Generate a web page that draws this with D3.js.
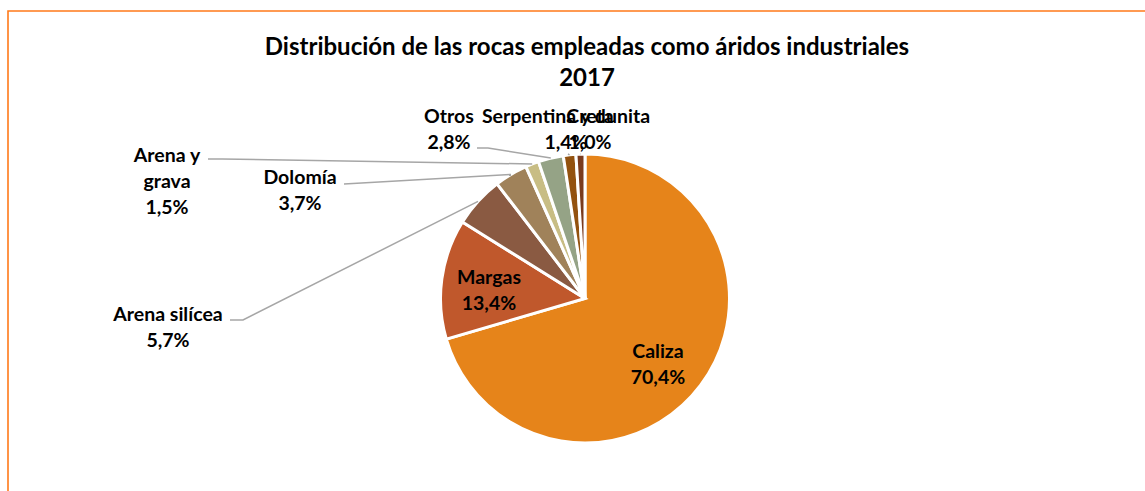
<!DOCTYPE html>
<html>
<head>
<meta charset="utf-8">
<script src="https://cdn.jsdelivr.net/npm/d3@7"></script>
<style>
  html, body { margin: 0; padding: 0; background: #fff; }
  svg { display: block; }
  text { font-family: Lato, "Open Sans", sans-serif; font-weight: bold; fill: #000; }
</style>
</head>
<body>
<svg id="chart" width="1145" height="491"></svg>
<script>
// ---- data ----
const categories = ["Caliza", "Margas", "Arena silícea", "Dolomía", "Arena y grava", "Otros", "Serpentina y dunita", "Creta"];
const values = [70.4, 13.4, 5.7, 3.7, 1.5, 2.8, 1.4, 1.0];
const valueLabels = ["70,4%", "13,4%", "5,7%", "3,7%", "1,5%", "2,8%", "1,4%", "1,0%"];
const colors = ["#E6841A", "#C0582C", "#8A5A42", "#A0825A", "#C8BD84", "#95A386", "#93520F", "#7A3B1E"];
const titleLines = ["Distribución de las rocas empleadas como áridos industriales", "2017"];

// ---- layout (label anchor positions, leader start points) ----
const labelLayout = [
  { lines: ["Caliza"], x: 658, y: 358, inside: true },
  { lines: ["Margas"], x: 489, y: 284, inside: true },
  { lines: ["Arena silícea"], x: 168, y: 321, lead: [[230, 320], [243, 320]] },
  { lines: ["Dolomía"], x: 300, y: 184, lead: [[344, 184]] },
  { lines: ["Arena y", "grava"], x: 167, y: 162, lead: [[208, 159], [222, 159]] },
  { lines: ["Otros"], x: 449, y: 123, lead: [[477, 148], [488, 148]] },
  { lines: ["Serpentina y dunita"], x: 566, y: 123, lead: [[568, 154]] },
  { lines: ["Creta"], x: 590, y: 123, lead: [[580, 154]] }
];
const lineH = 26;

const svg = d3.select("#chart");
const W = 1145, H = 491;
const cx = 585, cy = 298.5, R = 144.5;

// frame
svg.append("path")
  .attr("d", `M8,${H + 5} L8,11 L${W + 5},11`)
  .attr("fill", "none")
  .attr("stroke", "#FF7A1A")
  .attr("stroke-width", 1.6);

// title
const title = svg.append("text").attr("text-anchor", "middle").style("font-size", "24px");
title.selectAll("tspan").data(titleLines).join("tspan")
  .attr("x", 587)
  .attr("y", (d, i) => 55 + i * 31)
  .text(d => d);

// pie
const data = categories.map((c, i) => ({ name: c, value: values[i], label: valueLabels[i], color: colors[i], layout: labelLayout[i] }));
const pie = d3.pie().sort(null).value(d => d.value).startAngle(0).endAngle(2 * Math.PI);
const arcs = pie(data);
const arc = d3.arc().innerRadius(0).outerRadius(R);

const g = svg.append("g").attr("transform", `translate(${cx},${cy})`);
g.selectAll("path.slice").data(arcs).join("path")
  .attr("class", "slice")
  .attr("d", arc)
  .attr("fill", d => d.data.color)
  .attr("stroke", "#fff")
  .attr("stroke-width", 3)
  .attr("stroke-linejoin", "miter");

// leader lines
function edgePoint(a) {
  const m = (a.startAngle + a.endAngle) / 2;
  return [cx + R * Math.sin(m), cy - R * Math.cos(m)];
}
arcs.forEach(a => {
  const L = a.data.layout;
  if (!L.lead) return;
  const pts = L.lead.concat([edgePoint(a)]);
  svg.append("path")
    .attr("d", d3.line()(pts))
    .attr("fill", "none")
    .attr("stroke", "#A6A6A6")
    .attr("stroke-width", 1.5);
});

// labels
arcs.forEach(a => {
  const L = a.data.layout;
  const t = svg.append("text").attr("text-anchor", "middle").style("font-size", "19.5px");
  const lines = L.lines.concat([a.data.label]);
  t.selectAll("tspan").data(lines).join("tspan")
    .attr("x", L.x)
    .attr("y", (d, i) => L.y + i * lineH)
    .text(d => d);
});
</script>
</body>
</html>
